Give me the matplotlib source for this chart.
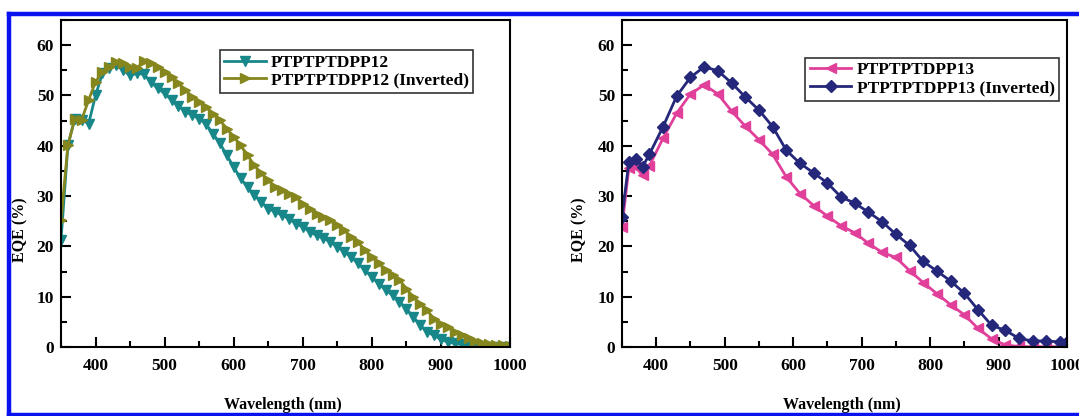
#EQE spectra of the PTPTPTDPP12 / PTPTPTDPP13 devices, normal vs inverted

import matplotlib
matplotlib.use('Agg') #no display
import matplotlib.pyplot as plt
from matplotlib.lines import Line2D
from matplotlib.ticker import MultipleLocator

plt.rcParams['font.family'] = ['Liberation Serif', 'DejaVu Serif']
plt.rcParams['font.weight'] = 'bold'

#left panel, every 10 nm
wl_12 = list(range(350, 1001, 10))
eqe_12 = [21.2, 40.1, 45.4, 45.2, 44.4, 50.0, 54.4, 55.4, 56.0, 55.0,
          54.0, 54.4, 54.2, 52.7, 51.4, 50.4, 49.1, 47.9, 46.8, 46.1,
          45.4, 44.3, 42.4, 40.5, 38.1, 35.8, 33.5, 31.8, 30.2, 28.8,
          27.5, 26.9, 26.2, 25.5, 24.5, 23.9, 22.9, 22.2, 21.6, 20.9,
          19.9, 18.9, 17.9, 16.6, 15.3, 13.9, 12.6, 11.3, 10.3, 9.0,
          7.6, 6.0, 4.3, 3.0, 2.3, 1.5, 1.0, 0.7, 0.5, 0.3,
          0.1, 0.05, 0.05, 0.05, 0.05, 0.05]
eqe_12_inv = [25.2, 40.1, 45.4, 45.2, 49.1, 52.7, 54.7, 55.7, 56.7, 56.4,
              55.7, 55.4, 56.9, 56.4, 55.7, 54.7, 53.7, 52.4, 51.1, 49.7,
              48.7, 47.7, 46.4, 45.1, 43.4, 41.8, 40.1, 38.1, 36.1, 34.5,
              33.2, 31.8, 31.2, 30.5, 29.8, 28.5, 27.5, 26.5, 25.9, 25.2,
              24.2, 23.2, 21.9, 20.9, 19.2, 17.9, 16.6, 15.3, 14.3, 13.3,
              11.6, 9.9, 8.6, 7.3, 5.6, 4.6, 4.0, 3.0, 2.3, 1.7,
              1.2, 0.7, 0.5, 0.3, 0.3, 0.2]

#right panel, coarser steps
wl_13 = [350, 360, 370, 380, 390] + list(range(410, 1000, 20)) + [1000]
eqe_13 = [23.9, 35.5, 35.8, 34.1, 36.0, 41.5, 46.5, 50.3, 52.1, 50.3,
          46.9, 43.9, 41.2, 38.3, 33.8, 30.5, 28.1, 26.0, 24.1, 22.7,
          20.6, 18.8, 17.8, 15.2, 12.8, 10.6, 8.4, 6.4, 3.7, 1.6,
          0.4, 0.1, 0.05, 0.05, 0.05, 0.05]
eqe_13_inv = [25.8, 36.8, 37.3, 35.8, 38.3, 43.8, 49.9, 53.6, 55.7, 54.9,
              52.5, 49.7, 47.1, 43.8, 39.1, 36.5, 34.6, 32.6, 29.8, 28.6,
              26.8, 24.9, 22.4, 20.2, 17.0, 15.1, 13.1, 10.7, 7.4, 4.3,
              3.3, 1.7, 1.2, 1.2, 1.0, 0.9]

W, H = 1079, 416
fig = plt.figure(figsize=(W / 100, H / 100), dpi=100)

def setup(ax, ylab_x):
    ax.set_xlim(350, 1000)
    ax.set_ylim(0, 65)
    ax.xaxis.set_major_locator(MultipleLocator(100))
    ax.xaxis.set_minor_locator(MultipleLocator(50))
    ax.yaxis.set_major_locator(MultipleLocator(10))
    ax.yaxis.set_minor_locator(MultipleLocator(5))
    ax.tick_params(which='both', direction='in', top=False, right=False,
                   width=1.5, labelsize=12.5)
    ax.tick_params(which='major', length=7)
    ax.tick_params(which='minor', length=4)
    ax.tick_params(axis='x', pad=8)
    ax.tick_params(axis='y', pad=5)
    for s in ax.spines.values():
        s.set_linewidth(1.5)
    ax.set_xlabel('Wavelength (nm)', fontsize=11.5, fontweight='bold')
    ax.set_ylabel('EQE (%)', fontsize=11.5, fontweight='bold')
    ax.xaxis.set_label_coords(0.495, -0.152)
    ax.yaxis.set_label_coords(ylab_x, 0.36)

ax1 = fig.add_axes([61 / W, (H - 347) / H, 449 / W, 327 / H])
ax1.plot(wl_12, eqe_12, '-v', color='#17878a', lw=2, ms=6.5, label='PTPTPTDPP12')
ax1.plot(wl_12, eqe_12_inv, '->', color='#86861e', lw=2, ms=6.5,
         label='PTPTPTDPP12 (Inverted)')
setup(ax1, -0.073)
leg1 = ax1.legend(loc='upper right', bbox_to_anchor=(0.918, 0.908), fontsize=12.5,
                  handlelength=2.4, fancybox=False, edgecolor='black',
                  borderpad=0.25, labelspacing=0.1, handletextpad=0.3,
                  borderaxespad=0)
leg1.get_frame().set_linewidth(1.2)

ax2 = fig.add_axes([622 / W, (H - 347) / H, 445 / W, 327 / H])
ax2.plot(wl_13, eqe_13, '-<', color='#e0409a', lw=2, ms=7, label='PTPTPTDPP13')
ax2.plot(wl_13, eqe_13_inv, '-D', color='#25277a', lw=2, ms=6,
         label='PTPTPTDPP13 (Inverted)')
setup(ax2, -0.078)
leg2 = ax2.legend(loc='upper right', bbox_to_anchor=(0.982, 0.884), fontsize=12.5,
                  handlelength=2.4, fancybox=False, edgecolor='black',
                  borderpad=0.25, labelspacing=0.1, handletextpad=0.3,
                  borderaxespad=0)
leg2.get_frame().set_linewidth(1.2)

#blue frame round the figure (left, top, bottom)
blue = '#0a12f0'
fig.add_artist(Line2D([9 / W, 9 / W], [(H - 14) / H, 0], color=blue, lw=3.2))
fig.add_artist(Line2D([9 / W, 1], [(H - 14) / H, (H - 14) / H], color=blue, lw=3.2))
fig.add_artist(Line2D([9 / W, 1], [1.2 / H, 1.2 / H], color=blue, lw=3.2))

fig.savefig('out.png', dpi=100)
